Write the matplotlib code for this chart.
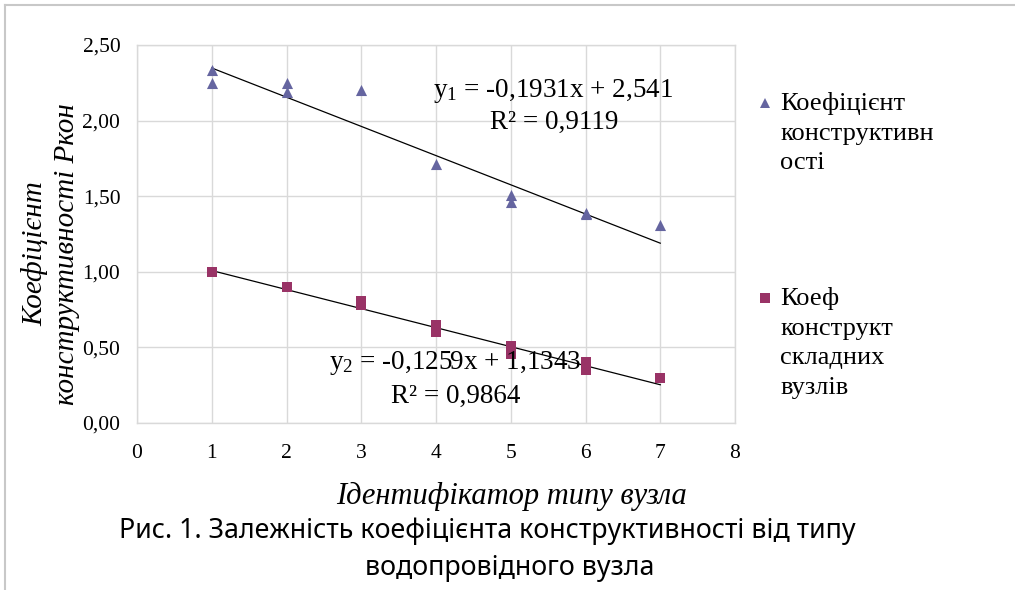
import numpy as np
import matplotlib
matplotlib.use("Agg")
import matplotlib.pyplot as plt
from matplotlib.lines import Line2D

plt.rcParams["mathtext.fontset"] = "custom"
plt.rcParams["mathtext.rm"] = "Liberation Serif"
plt.rcParams["mathtext.it"] = "Liberation Serif:italic"

# --- data ---
x_k = [1, 1, 2, 2, 3, 4, 5, 5, 6, 6, 7]
y_k = [2.335, 2.25, 2.25, 2.19, 2.20, 1.71, 1.51, 1.46, 1.39, 1.38, 1.31]
x_s = [1, 2, 3, 3, 4, 4, 5, 5, 6, 6, 7]
y_s = [1.00, 0.90, 0.81, 0.78, 0.645, 0.60, 0.51, 0.455, 0.405, 0.35, 0.30]

# trend line coefficients (as printed on the chart)
fit_k = (-0.1931, 2.541)
fit_s = (-0.1259, 1.1343)
trend_x = [1, 7]

x_ticks = [0, 1, 2, 3, 4, 5, 6, 7, 8]
y_ticks = [0.0, 0.5, 1.0, 1.5, 2.0, 2.5]
y_tick_labels = ["0,00", "0,50", "1,00", "1,50", "2,00", "2,50"]

label_k = "Коефіцієнт\nконструктивн\nості"
label_s = "Коеф\nконструкт\nскладних\nвузлів"
eq_k = ["y$_1$ = -0,1931x + 2,541", "R² = 0,9119"]
eq_s = ["y$_2$ = -0,1259x + 1,1343", "R² = 0,9864"]

col_k = "#6565A0"
col_s = "#993366"
grid_col = "#D9D9D9"
serif = "Liberation Serif"

W, H = 1015, 590


def fx(px):
    return px / W


def fy(py):
    return 1 - py / H


fig = plt.figure(figsize=(W / 100, H / 100), dpi=100)
ax = fig.add_axes([fx(137), fy(423), (735 - 137) / W, (423 - 45) / H])

ax.scatter(x_k, y_k, marker="^", s=64, color=col_k, zorder=3, linewidths=0)
ax.scatter(x_s, y_s, marker="s", s=58, color=col_s, zorder=3, linewidths=0)

tx = np.array(trend_x, dtype=float)
ax.plot(tx, fit_k[0] * tx + fit_k[1], color="black", lw=0.9, zorder=2)
ax.plot(tx, fit_s[0] * tx + fit_s[1], color="black", lw=0.9, zorder=2)

ax.set_xlim(0, 8)
ax.set_ylim(0, 2.5)
ax.set_xticks(x_ticks)
ax.set_yticks(y_ticks)
ax.set_xticklabels([str(v) for v in x_ticks], family=serif, fontsize=15.5)
ax.set_yticklabels(y_tick_labels, family=serif, fontsize=15.5)
ax.tick_params(length=0)
ax.tick_params(axis="x", pad=15)
ax.tick_params(axis="y", pad=12)
ax.grid(True, color=grid_col, lw=1)
ax.set_axisbelow(True)
for sp in ax.spines.values():
    sp.set_color(grid_col)
    sp.set_linewidth(1)

# trend equations
fig.text(fx(553), fy(91), eq_k[0], fontsize=19.5, family=serif, ha="center", va="center")
fig.text(fx(554), fy(122), eq_k[1], fontsize=19.5, family=serif, ha="center", va="center")
fig.text(fx(455), fy(363), eq_s[0], fontsize=19.5, family=serif, ha="center", va="center")
fig.text(fx(456), fy(396), eq_s[1], fontsize=19.5, family=serif, ha="center", va="center")

# axis titles
fig.text(fx(512), fy(496), "Ідентифікатор типу вузла", family=serif,
         style="italic", fontsize=22, ha="center", va="center")
fig.text(fx(51), fy(254), "Коефіцієнт\nконструктивності Ркон", family=serif,
         style="italic", fontsize=21, ha="center", va="center", rotation=90,
         multialignment="center", linespacing=1.3)

# legend
fig.add_artist(Line2D([fx(765)], [fy(103)], marker="^", ms=7.5, color=col_k,
                      mew=0, transform=fig.transFigure))
fig.add_artist(Line2D([fx(765)], [fy(298)], marker="s", ms=7, color=col_s,
                      mew=0, transform=fig.transFigure))
fig.text(fx(780), fy(92), label_k, family=serif, fontsize=19, ha="left",
         va="top", linespacing=1.45)
fig.text(fx(780), fy(287), label_s, family=serif, fontsize=19, ha="left",
         va="top", linespacing=1.45)

# caption
fig.text(fx(487), fy(531), "Рис. 1. Залежність коефіцієнта конструктивності від типу",
         family="Noto Sans", fontsize=19.3, ha="center", va="center")
fig.text(fx(510), fy(568), "водопровідного вузла",
         family="Noto Sans", fontsize=19.3, ha="center", va="center")

# page frame lines
fig.add_artist(Line2D([fx(5), 1], [fy(5), fy(5)], color="#C8C8C8", lw=1.5,
                      transform=fig.transFigure))
fig.add_artist(Line2D([fx(5), fx(5)], [0, fy(5)], color="#C8C8C8", lw=1.5,
                      transform=fig.transFigure))

fig.savefig("out.png", dpi=100, facecolor="white")
